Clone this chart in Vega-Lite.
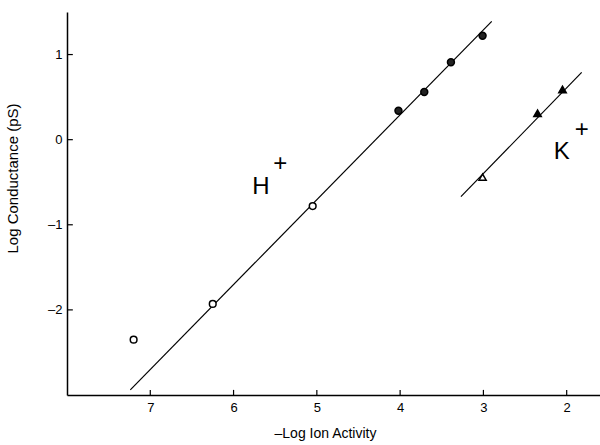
{
  "$schema": "https://vega.github.io/schema/vega-lite/v6.json",
  "autosize": {"type": "none"},
  "padding": {"left": 67, "top": 12, "right": 0, "bottom": 50},
  "width": 533,
  "height": 383,
  "background": "white",
  "config": {
    "view": {"stroke": null},
    "font": "Liberation Sans",
    "axis": {"grid": false, "ticks": false, "domainColor": "black", "domainWidth": 1.5, "labelColor": "black", "titleColor": "black", "labelFont": "Liberation Sans", "titleFont": "Liberation Sans", "titleFontWeight": "normal"}
  },
  "datasets": {
    "points": [
      {"x": 7.2, "y": -2.35, "type": "open circle"},
      {"x": 6.25, "y": -1.93, "type": "open circle"},
      {"x": 5.05, "y": -0.78, "type": "open circle"},
      {"x": 4.02, "y": 0.34, "type": "filled circle"},
      {"x": 3.71, "y": 0.56, "type": "filled circle"},
      {"x": 3.39, "y": 0.91, "type": "filled circle"},
      {"x": 3.01, "y": 1.22, "type": "filled circle"},
      {"x": 3.01, "y": -0.44, "type": "open triangle"},
      {"x": 2.35, "y": 0.31, "type": "filled triangle"},
      {"x": 2.05, "y": 0.59, "type": "filled triangle"}
    ],
    "lines": [
      {"x": 7.24, "y": -2.94, "ion": "H"},
      {"x": 2.9, "y": 1.39, "ion": "H"},
      {"x": 3.27, "y": -0.67, "ion": "K"},
      {"x": 1.82, "y": 0.79, "ion": "K"}
    ],
    "labels": [
      {"x": 5.67, "y": -0.56, "text": "H"},
      {"x": 5.44, "y": -0.29, "text": "+"},
      {"x": 2.06, "y": -0.14, "text": "K"},
      {"x": 1.82, "y": 0.11, "text": "+"}
    ],
    "xticks": [{"v": 2}, {"v": 3}, {"v": 4}, {"v": 5}, {"v": 6}, {"v": 7}],
    "yticks": [{"v": -2}, {"v": -1}, {"v": 0}, {"v": 1}]
  },
  "layer": [
    {
      "data": {"name": "lines"},
      "mark": {"type": "line", "color": "black", "strokeWidth": 1.2},
      "encoding": {
        "x": {"field": "x", "type": "quantitative", "scale": {"domain": [1.6, 8], "reverse": true, "nice": false, "zero": false},
          "axis": {"values": [2, 3, 4, 5, 6, 7], "format": "d", "labelPadding": 6, "labelFontSize": 13, "title": "–Log Ion Activity", "titleFontSize": 14, "titleY": 31, "titleX": 258}},
        "y": {"field": "y", "type": "quantitative", "scale": {"domain": [-3, 1.5], "nice": false, "zero": false},
          "axis": {"values": [-2, -1, 0, 1], "format": "d", "labelPadding": 5, "labelFontSize": 13, "labelExpr": "replace(datum.label, '−', '–')", "title": "Log Conductance (pS)", "titleFontSize": 15, "titleX": -47, "titleY": 166}},
        "detail": {"field": "ion"}
      }
    },
    {
      "data": {"name": "xticks"},
      "mark": {"type": "rule", "color": "black", "strokeWidth": 1.2},
      "encoding": {
        "x": {"field": "v", "type": "quantitative"},
        "y": {"datum": -3},
        "y2": {"datum": -2.94}
      }
    },
    {
      "data": {"name": "yticks"},
      "mark": {"type": "rule", "color": "black", "strokeWidth": 1.2},
      "encoding": {
        "y": {"field": "v", "type": "quantitative"},
        "x": {"datum": 8},
        "x2": {"datum": 7.93}
      }
    },
    {
      "data": {"name": "points"},
      "mark": {"type": "point", "stroke": "black", "strokeWidth": 1.5, "opacity": 1},
      "encoding": {
        "x": {"field": "x", "type": "quantitative"},
        "y": {"field": "y", "type": "quantitative"},
        "shape": {"field": "type", "type": "nominal", "legend": null,
          "scale": {"domain": ["open circle", "filled circle", "open triangle", "filled triangle"], "range": ["circle", "circle", "triangle-up", "triangle-up"]}},
        "fill": {"field": "type", "type": "nominal", "legend": null,
          "scale": {"domain": ["open circle", "filled circle", "open triangle", "filled triangle"], "range": ["white", "#222222", "white", "black"]}},
        "size": {"field": "type", "type": "nominal", "legend": null,
          "scale": {"domain": ["open circle", "filled circle", "open triangle", "filled triangle"], "range": [45, 55, 90, 90]}}
      }
    },
    {
      "data": {"name": "labels"},
      "mark": {"type": "text", "fontSize": 24, "font": "Liberation Sans", "color": "black", "baseline": "middle", "align": "center"},
      "encoding": {
        "x": {"field": "x", "type": "quantitative"},
        "y": {"field": "y", "type": "quantitative"},
        "text": {"field": "text"}
      }
    }
  ]
}
